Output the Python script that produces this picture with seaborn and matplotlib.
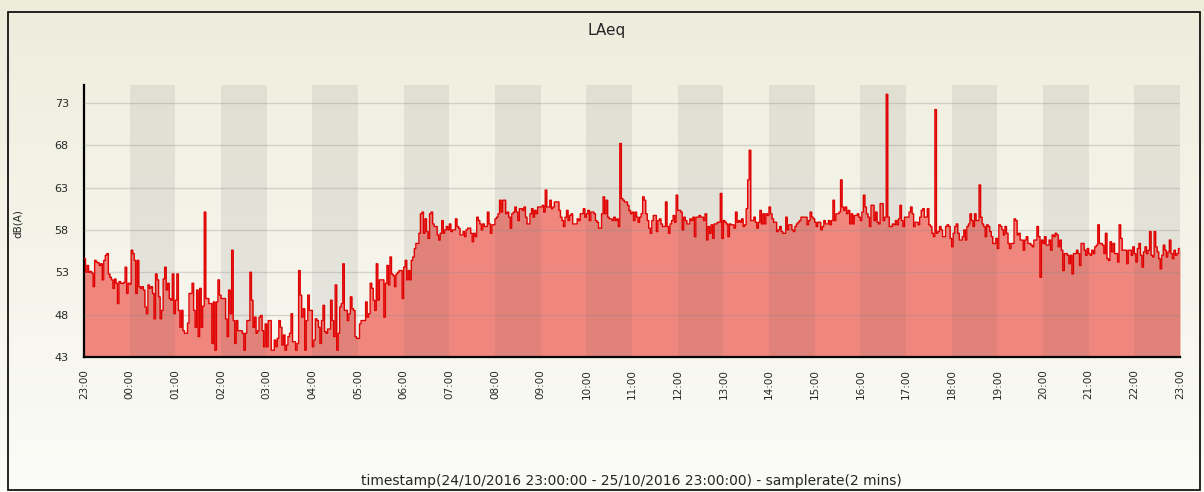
import numpy as np
import pandas as pd
import matplotlib
matplotlib.use("Agg")
import matplotlib.pyplot as plt
import matplotlib.dates as mdates
from matplotlib.ticker import FixedLocator
from matplotlib.patches import Rectangle
import seaborn as sns

sns.set_style("white")
plt.rcParams['font.family'] = ['DejaVu Sans']

# ---------------------
# Data: LAeq in dB(A), 2-minute samples, one list per clock hour
# ---------------------
h2300 = [54.6, 53.0, 53.8, 53.0, 53.1, 52.9, 51.3, 54.4, 54.2, 54.1,
         53.8, 54.0, 52.1, 54.4, 55.0, 55.2, 52.8, 52.4, 52.1, 51.1,
         52.2, 51.7, 49.3, 51.9, 51.7, 51.7, 51.8, 53.6, 50.5, 51.7]
h0000 = [51.6, 55.6, 55.2, 54.4, 50.5, 54.4, 51.3, 51.1, 51.3, 50.9,
         48.9, 48.1, 51.5, 51.1, 51.3, 50.5, 47.5, 52.8, 52.1, 50.1,
         47.5, 48.5, 52.2, 53.6, 50.9, 51.7, 49.9, 49.7, 52.8, 48.1]
h0100 = [49.7, 52.8, 48.5, 46.5, 48.5, 46.1, 45.8, 45.8, 47.0, 50.5,
         50.5, 51.7, 48.5, 46.5, 50.9, 45.4, 51.1, 46.5, 49.0, 60.1,
         49.9, 49.9, 49.3, 49.3, 44.6, 49.5, 43.8, 49.5, 52.1, 50.3]
h0200 = [49.9, 49.9, 49.9, 47.5, 45.4, 50.9, 48.1, 55.6, 47.3, 44.6,
         47.3, 46.1, 46.1, 46.1, 45.8, 43.8, 45.8, 47.3, 47.3, 53.0,
         49.7, 46.5, 47.7, 45.8, 46.1, 47.7, 47.9, 46.1, 44.2, 46.9]
h0300 = [44.2, 47.3, 47.3, 43.8, 43.8, 45.0, 44.2, 45.2, 47.3, 46.5,
         44.4, 45.6, 43.8, 44.4, 45.4, 45.8, 48.1, 44.8, 44.8, 43.8,
         44.6, 53.2, 50.3, 47.7, 48.7, 43.8, 47.3, 50.3, 48.5, 48.5]
h0400 = [44.2, 45.0, 47.5, 47.3, 46.5, 44.6, 47.3, 49.1, 46.0, 45.8,
         46.3, 46.3, 49.7, 47.3, 45.4, 51.5, 43.8, 45.8, 48.9, 49.3,
         54.0, 48.5, 48.5, 47.3, 48.1, 50.1, 48.7, 48.5, 45.4, 45.2]
h0500 = [45.2, 46.9, 47.3, 47.3, 47.3, 49.5, 47.7, 48.1, 51.7, 51.1,
         49.7, 48.5, 54.0, 49.7, 52.1, 52.1, 52.1, 47.7, 51.7, 53.8,
         51.5, 54.8, 52.8, 52.6, 51.3, 52.8, 53.0, 53.2, 53.2, 49.9]
h0600 = [53.6, 54.4, 52.1, 53.2, 52.1, 54.4, 54.8, 55.8, 56.4, 56.4,
         57.6, 59.9, 60.1, 57.6, 59.3, 57.8, 57.0, 59.9, 60.1, 58.7,
         58.4, 58.4, 57.4, 56.8, 57.6, 59.1, 57.6, 58.0, 58.4, 58.0]
h0700 = [58.7, 57.8, 58.0, 58.0, 59.3, 58.4, 58.2, 57.4, 57.4, 57.8,
         57.2, 58.0, 58.2, 58.2, 57.6, 56.6, 57.6, 57.2, 59.5, 59.1,
         58.7, 58.0, 58.7, 58.4, 58.4, 60.1, 58.7, 57.6, 58.6, 58.6]
h0800 = [59.3, 59.5, 59.9, 61.5, 60.1, 61.5, 61.5, 59.9, 60.1, 59.5,
         58.2, 59.9, 60.1, 60.7, 60.1, 59.1, 60.5, 60.5, 60.3, 60.7,
         59.5, 58.7, 58.7, 59.9, 60.5, 59.5, 60.3, 59.9, 60.7, 60.7]
h0900 = [60.7, 60.9, 60.1, 62.7, 60.7, 60.7, 61.5, 60.5, 60.7, 61.3,
         61.3, 61.3, 60.3, 59.5, 59.1, 58.4, 59.5, 60.3, 59.1, 59.7,
         59.9, 58.7, 58.7, 58.7, 59.3, 59.1, 59.9, 59.9, 60.5, 59.5]
h1000 = [59.9, 60.3, 59.1, 60.1, 60.1, 59.9, 59.1, 58.9, 58.2, 58.2,
         59.9, 61.9, 59.9, 61.5, 59.5, 59.3, 59.3, 59.1, 59.5, 59.1,
         59.3, 58.4, 68.2, 61.7, 61.5, 61.3, 61.3, 60.9, 60.3, 59.9]
h1100 = [60.1, 59.1, 60.1, 59.5, 58.9, 59.5, 59.9, 61.9, 61.5, 59.9,
         59.1, 58.2, 57.6, 59.1, 59.7, 59.7, 57.8, 59.1, 59.3, 58.7,
         58.4, 58.4, 61.3, 58.4, 57.6, 58.7, 59.1, 59.7, 58.9, 62.1]
h1200 = [60.3, 60.3, 60.1, 58.0, 59.5, 59.1, 58.7, 58.7, 59.3, 59.1,
         59.5, 57.2, 59.5, 59.5, 59.7, 59.5, 59.5, 59.1, 59.9, 56.8,
         58.4, 57.6, 58.6, 57.0, 58.7, 58.7, 58.9, 58.9, 62.3, 57.0]
h1300 = [59.1, 58.9, 58.7, 57.2, 58.7, 58.6, 58.6, 58.2, 60.1, 58.9,
         59.1, 58.9, 59.3, 58.4, 58.6, 60.5, 63.9, 67.4, 59.1, 59.1,
         59.5, 58.9, 58.2, 58.9, 60.3, 58.7, 59.9, 58.7, 59.9, 59.7]
h1400 = [60.7, 59.9, 59.3, 58.9, 58.9, 57.8, 58.0, 58.4, 57.8, 57.6,
         57.6, 59.5, 58.0, 58.6, 58.6, 58.0, 57.8, 58.4, 58.7, 58.9,
         59.1, 59.5, 59.5, 59.5, 59.5, 58.6, 59.1, 60.1, 59.5, 59.3]
h1500 = [58.9, 58.4, 58.9, 58.9, 58.0, 58.4, 59.1, 58.7, 58.7, 59.1,
         58.6, 59.1, 61.5, 59.1, 59.9, 59.9, 60.1, 63.9, 60.7, 60.3,
         60.7, 59.9, 60.3, 58.7, 59.9, 58.7, 59.7, 59.7, 59.9, 59.5]
h1600 = [59.1, 60.1, 62.1, 60.7, 59.9, 59.5, 58.4, 60.9, 60.9, 59.1,
         60.1, 58.9, 58.7, 61.1, 61.1, 59.1, 59.5, 74.0, 59.5, 58.4,
         58.4, 58.7, 58.6, 59.1, 58.6, 59.3, 60.9, 59.1, 58.4, 59.5]
h1700 = [59.5, 59.5, 60.1, 60.7, 59.9, 58.4, 58.9, 58.9, 58.6, 59.5,
         60.3, 60.5, 59.5, 59.5, 60.5, 58.6, 58.4, 57.6, 57.2, 72.2,
         57.6, 57.8, 58.4, 58.0, 57.2, 57.2, 58.4, 58.6, 58.4, 57.0]
h1800 = [56.0, 57.6, 58.4, 58.7, 57.6, 56.8, 56.8, 57.2, 58.0, 56.8,
         58.4, 58.7, 59.9, 59.1, 58.4, 59.9, 59.1, 59.1, 63.3, 59.5,
         58.7, 58.4, 57.2, 58.6, 58.4, 57.8, 57.2, 56.4, 56.4, 57.0]
h1900 = [55.8, 58.6, 58.4, 58.0, 57.4, 58.4, 57.6, 56.4, 55.8, 56.4,
         56.4, 59.3, 59.1, 57.4, 57.6, 56.8, 56.8, 55.6, 56.8, 57.2,
         56.4, 56.4, 56.2, 56.0, 56.8, 56.8, 58.4, 57.2, 52.4, 56.8]
h2000 = [56.4, 57.2, 56.2, 56.2, 56.8, 55.6, 57.4, 57.2, 57.6, 57.4,
         56.0, 56.8, 55.6, 53.2, 55.2, 55.2, 55.0, 54.0, 55.0, 52.8,
         55.2, 55.2, 55.6, 55.2, 53.8, 56.4, 56.4, 55.6, 55.0, 55.8]
h2100 = [55.2, 55.0, 55.6, 55.2, 56.0, 56.2, 58.6, 56.4, 56.4, 56.2,
         55.2, 57.6, 54.6, 54.4, 56.6, 55.4, 56.4, 55.2, 55.2, 54.2,
         58.6, 57.0, 55.6, 55.6, 55.6, 54.0, 55.6, 55.6, 55.0, 56.0]
h2200 = [55.2, 54.2, 55.8, 56.4, 55.0, 53.6, 55.4, 56.0, 55.2, 55.6,
         57.8, 55.0, 54.8, 57.8, 56.0, 55.4, 54.6, 53.4, 55.0, 56.2,
         55.6, 54.8, 55.4, 56.8, 55.2, 54.6, 55.6, 55.0, 55.2, 55.8]

hourly = [h2300, h0000, h0100, h0200, h0300, h0400, h0500, h0600,
          h0700, h0800, h0900, h1000, h1100, h1200, h1300, h1400,
          h1500, h1600, h1700, h1800, h1900, h2000, h2100, h2200]

laeq = np.concatenate(hourly)
start = pd.Timestamp("2016-10-24 23:00")
end = pd.Timestamp("2016-10-25 23:00")
stamps = pd.date_range(start, periods=len(laeq), freq="2min")

# extra point so the last step reaches the right edge
xs = stamps.append(pd.DatetimeIndex([end]))
ys = np.append(laeq, laeq[-1])
df = pd.DataFrame({"timestamp": xs, "LAeq": ys})

# ---------------------
# Figure
# ---------------------
fig = plt.figure(figsize=(12.04, 4.92), dpi=100)

# soft vertical gradient behind everything
bg = fig.add_axes([0, 0, 1, 1], zorder=-10)
top_c = np.array([0.933, 0.929, 0.862])
bot_c = np.array([0.985, 0.985, 0.972])
t = np.linspace(0, 1, 256)[:, None]
grad = top_c * (1 - t) + bot_c * t
bg.imshow(grad[:, None, :], aspect="auto", extent=[0, 1, 0, 1])
bg.axis("off")

ax = fig.add_axes([84 / 1204, 1 - 357 / 492, 1096 / 1204, 272 / 492])
ax.patch.set_alpha(0)

ax.fill_between(df["timestamp"], 43, df["LAeq"], step="post",
                color="#f0877f", lw=0, zorder=1)

# alternate hour bands
for k in range(1, 24, 2):
    ax.axvspan(start + pd.Timedelta(hours=k), start + pd.Timedelta(hours=k + 1),
               color="#555555", alpha=0.1, lw=0, zorder=2)

for v in range(43, 74, 5):
    ax.axhline(v, color="#8a8a8a", alpha=0.3, lw=1, zorder=3)

sns.lineplot(data=df, x="timestamp", y="LAeq", drawstyle="steps-post",
             color="#e00000", lw=1.0, ax=ax, zorder=4)

ax.set_xlim(start, end)
ax.set_ylim(43, 75.1)

ax.xaxis.set_major_locator(mdates.HourLocator())
ax.xaxis.set_major_formatter(mdates.DateFormatter("%H:%M"))
ax.xaxis.set_minor_locator(mdates.MinuteLocator(byminute=[30]))
ax.yaxis.set_major_locator(FixedLocator(range(43, 74, 5)))
ax.yaxis.set_minor_locator(FixedLocator(range(43, 76)))

ax.tick_params(which="major", direction="in", length=6, width=1.3, color="black")
ax.tick_params(which="minor", direction="in", length=4, width=1.3, color="black")
ax.tick_params(axis="x", which="major", labelsize=7.5, labelrotation=90, pad=9)
ax.tick_params(axis="y", which="major", labelsize=8, pad=11)

for s in ["top", "right"]:
    ax.spines[s].set_visible(False)
for s in ["left", "bottom"]:
    ax.spines[s].set_color("black")
    ax.spines[s].set_linewidth(1.6)

ax.set_xlabel("")
ax.set_ylabel("")

fig.text(607 / 1204, 1 - 30 / 492, "LAeq", fontsize=11, ha="center", va="center")
fig.text(18 / 1204, 1 - 224 / 492, "dB(A)", fontsize=7.5, rotation=90,
         ha="center", va="center")
fig.text(631 / 1204, 1 - 481 / 492,
         "timestamp(24/10/2016 23:00:00 - 25/10/2016 23:00:00) - samplerate(2 mins)",
         fontsize=10, ha="center", va="center")

fig.add_artist(Rectangle((8 / 1204, 2 / 492), 1192 / 1204, 478 / 492,
                         fill=False, ec="black", lw=1.2, transform=fig.transFigure))

fig.savefig("out.png", dpi=100)
